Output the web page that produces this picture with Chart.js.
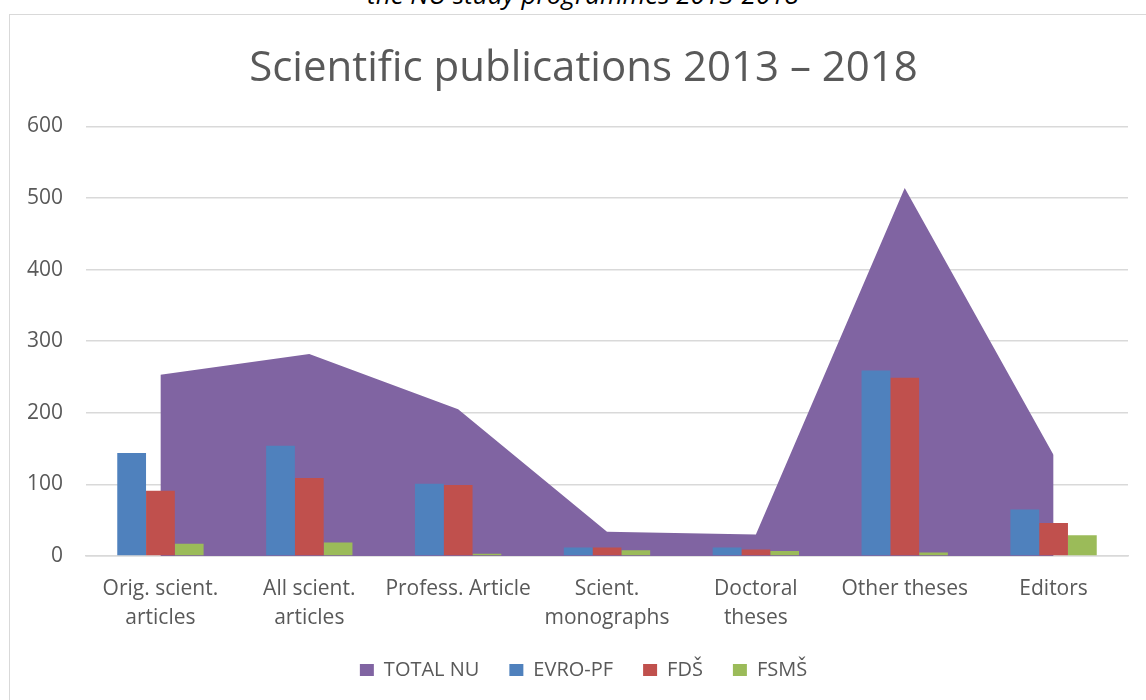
<!DOCTYPE html>
<html><head><meta charset="utf-8">
<script src="https://cdn.jsdelivr.net/npm/chart.js@4.4.0/dist/chart.umd.min.js"></script>
<style>
html,body{margin:0;padding:0;background:#fff;overflow:hidden}
#wrap{position:relative;width:1146px;height:700px;overflow:hidden;background:#fff}
#frame{position:absolute;left:9px;top:14px;width:1300px;height:900px;border:1.5px solid #D9D9D9;box-sizing:border-box}
#cap{position:absolute;left:0;width:1166px;top:-24px;text-align:center;font-family:"Open Sans";font-style:italic;font-size:26px;line-height:36px;color:#000;white-space:nowrap}
canvas{position:absolute;left:0;top:0}
</style></head>
<body><div id="wrap"><div id="cap">the NU study programmes 2013-2018</div><div id="frame"></div><canvas id="c" width="1146" height="700"></canvas></div>
<script>
const categories = [["Orig. scient.","articles"],["All scient.","articles"],"Profess. Article",["Scient.","monographs"],["Doctoral","theses"],"Other theses","Editors"];
const totalNU = [253, 282, 205, 34, 30, 514, 141];
const evroPF = [144, 154, 101, 12, 12, 259, 65];
const fds = [91, 109, 99, 12, 9, 249, 46];
const fsms = [17, 19, 3, 8, 7, 5, 29];
const yTicks = [0, 100, 200, 300, 400, 500, 600];
const txt = '#595959';
const font = "'Open Sans', sans-serif";

new Chart(document.getElementById('c'), {
  data: {
    labels: categories,
    datasets: [
      {type:'line', label:'TOTAL NU', data: totalNU, fill:'origin', backgroundColor:'#8064A2', borderColor:'#8064A2', borderWidth:0, pointRadius:0, tension:0, order:2},
      {type:'bar', label:'EVRO-PF', data: evroPF, backgroundColor:'#4F81BD', order:1, barPercentage:1, categoryPercentage:0.58},
      {type:'bar', label:'FDŠ', data: fds, backgroundColor:'#C0504D', order:1, barPercentage:1, categoryPercentage:0.58},
      {type:'bar', label:'FSMŠ', data: fsms, backgroundColor:'#9BBB59', order:1, barPercentage:1, categoryPercentage:0.58}
    ]
  },
  options: {
    responsive:false, animation:false, devicePixelRatio:1,
    layout:{padding:{left:39,right:18,top:0,bottom:10}},
    plugins:{
      title:{display:true, text:'Scientific publications 2013 – 2018', color:txt, font:{family:font, size:42, weight:'normal', lineHeight:1.2}, padding:{top:44,bottom:32}},
      legend:{position:'bottom', labels:{color:txt, font:{family:font,size:20}, boxWidth:14, boxHeight:12, padding:30, sort:(a,b)=>a.datasetIndex-b.datasetIndex}},
      tooltip:{enabled:false}
    },
    scales:{
      x:{offset:true, grid:{display:false, drawTicks:false}, border:{color:'#D9D9D9', width:1.5},
         ticks:{color:txt, font:{family:font,size:21,lineHeight:1.4}, padding:18, maxRotation:0, autoSkip:false},
         afterFit:(s)=>{s.height=74;}},
      y:{min:0, max:600, afterBuildTicks:(s)=>{s.ticks = yTicks.map(v=>({value:v}));},
         grid:{color:'#D9D9D9', lineWidth:1.5, drawTicks:false}, border:{display:false},
         ticks:{color:txt, font:{family:font,size:21}, padding:23},
         afterFit:(s)=>{s.width=47; s._computeLabelArea = () => undefined;}}
    }
  }
});
</script>
</body></html>
